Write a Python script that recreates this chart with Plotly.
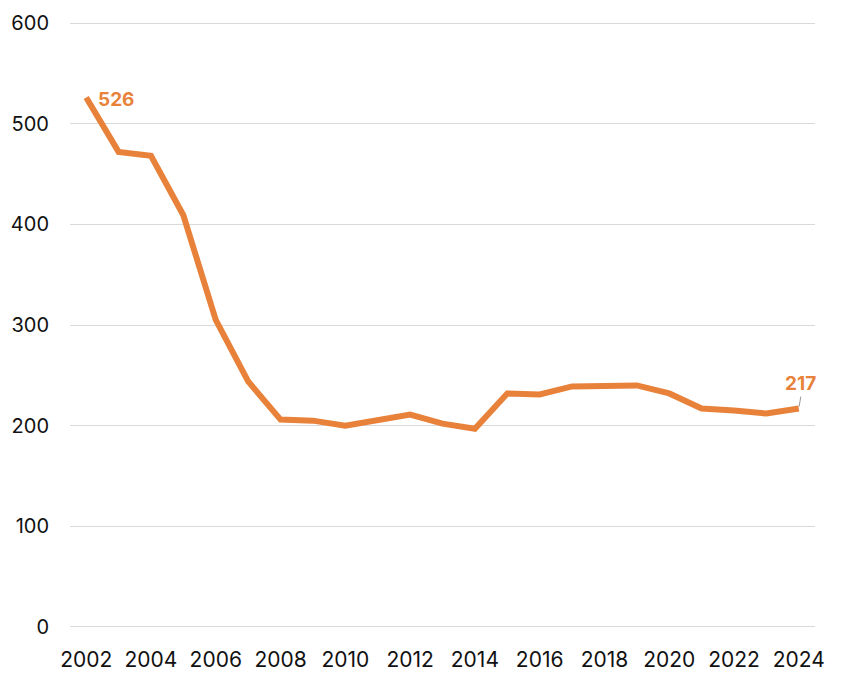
import plotly.graph_objects as go

years = list(range(2002, 2025))
values = [526, 472, 468, 409, 305, 244, 206, 205, 200, 205, 211, 202, 197,
          232, 231, 239, 239, 240, 232, 217, 215, 212, 217]
x_ticks = list(range(2002, 2025, 2))
y_ticks = [0, 100, 200, 300, 400, 500, 600]

color = "#E8823A"
font_family = "Inter, Lato, 'Noto Sans', sans-serif"

fig = go.Figure()
fig.add_trace(go.Scatter(x=years, y=values, mode="lines",
                         line=dict(color=color, width=6), hoverinfo="x+y"))

fig.add_annotation(x=years[0], y=values[0], text="<b>%d</b>" % values[0],
                   showarrow=False, xanchor="left", yanchor="middle",
                   xshift=10, yshift=-2,
                   font=dict(color=color, size=19, family=font_family))
fig.add_annotation(x=years[-1], y=values[-1], text="<b>%d</b>" % values[-1],
                   showarrow=True, arrowhead=0, arrowwidth=1, arrowcolor="#9a9a9a",
                   ax=2, ay=-12, yanchor="bottom", standoff=2,
                   font=dict(color=color, size=19, family=font_family))

fig.update_layout(
    width=858, height=688,
    margin=dict(l=62, r=51, t=13, b=67),
    paper_bgcolor="white", plot_bgcolor="white",
    showlegend=False,
    font=dict(family=font_family, color="#111111", size=20),
    xaxis=dict(range=[2001.5, 2024.5], tickvals=x_ticks,
               ticktext=[str(t) for t in x_ticks],
               showgrid=False, zeroline=False, showline=False,
               ticks="", ticklabelstandoff=16, automargin=False,
               tickfont=dict(size=21)),
    yaxis=dict(range=[-2, 602], tickvals=y_ticks,
               showgrid=True, gridcolor="#d9d9d9", gridwidth=1,
               zeroline=False, showline=False, ticks="", automargin=False,
               ticklabelstandoff=20, tickfont=dict(size=20)),
)

fig.write_html("out.html")
